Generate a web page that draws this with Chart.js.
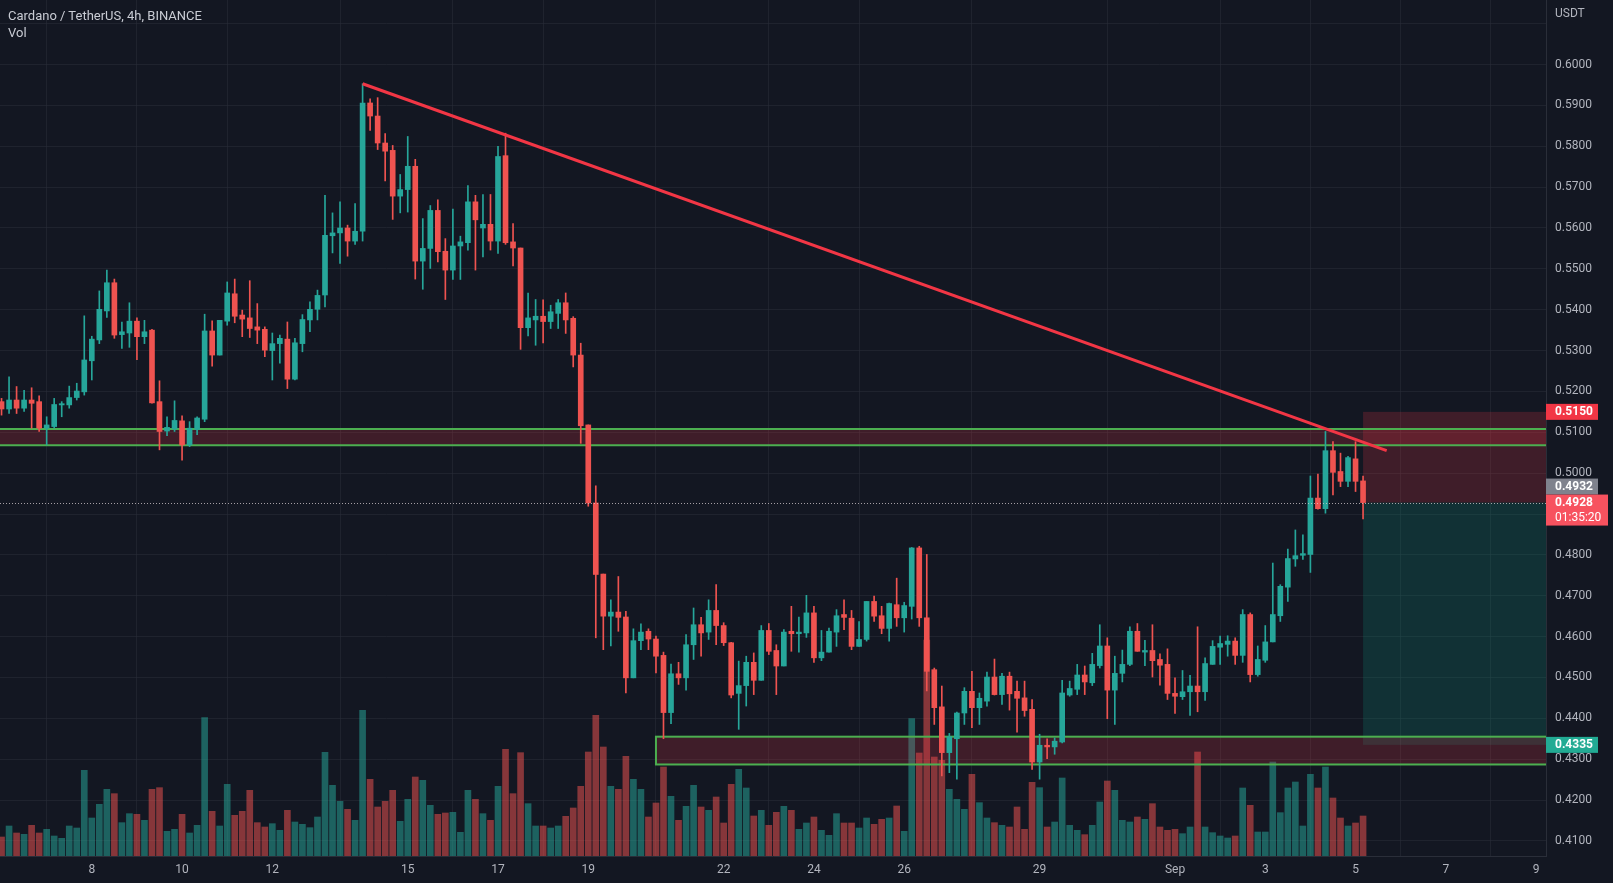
<!DOCTYPE html>
<html>
<head>
<meta charset="utf-8">
<script src="https://cdn.jsdelivr.net/npm/chart.js@4.4.0/dist/chart.umd.min.js"></script>
<style>
  html, body { margin: 0; padding: 0; background: #131722; }
  #wrap { position: relative; width: 1613px; height: 883px; }
  .lbl { position: absolute; font-family: Roboto, "Noto Sans", sans-serif; color: #b2b5be; white-space: nowrap; }
</style>
</head>
<body>
<div id="wrap">
  <canvas id="c"></canvas>
  <div class="lbl" style="left:8px;top:8px;font-size:13px;color:#c9ccd4">Cardano / TetherUS, 4h, BINANCE</div>
  <div class="lbl" style="left:8px;top:25px;font-size:13px;color:#c9ccd4">Vol</div>
  <div class="lbl" style="left:1555px;top:6px;font-size:12px">USDT</div>
</div>
<script>
/* ADAUSDT 4h candles, Aug 6 00:00 -> Sep 5 04:00 (one candle every 4h).
   x axis is measured in days from Aug 1 00:00. */
const START_DAY = 5;
const STEP = 1 / 6;

const opens = [
  .5175,.5157,.5179,.5159,.5179,.5175,.5110,.5114,.5167,.5167,
  .5185,.5199,.5275,.5326,.5397,.5466,.5339,.5343,.5372,.5334,
  .5350,.5175,.5103,.5108,.5128,.5069,.5107,.5132,.5348,.5289,
  .5372,.5439,.5387,.5380,.5358,.5352,.5300,.5317,.5328,.5230,
  .5317,.5375,.5401,.5436,.5581,.5588,.5600,.5568,.5592,.5906,
  .5874,.5808,.5790,.5678,.5694,.5751,.5519,.5550,.5643,.5543,
  .5497,.5556,.5564,.5664,.5600,.5609,.5568,.5777,.5566,.5551,
  .5356,.5375,.5384,.5371,.5391,.5417,.5379,.5289,.5118,.4927,
  .4753,.4650,.4660,.4648,.4499,.4590,.4613,.4594,.4554,.4414,
  .4509,.4499,.4580,.4629,.4611,.4664,.4627,.4585,.4461,.4480,
  .4537,.4493,.4615,.4566,.4528,.4613,.4607,.4609,.4658,.4548,
  .4562,.4611,.4654,.4645,.4576,.4593,.4686,.4651,.4620,.4678,
  .4646,.4674,.4817,.4646,.4519,.4428,.4316,.4350,.4413,.4466,
  .4426,.4442,.4501,.4458,.4503,.4466,.4450,.4422,.4293,.4334,
  .4330,.4342,.4457,.4471,.4506,.4487,.4529,.4577,.4469,.4510,
  .4532,.4613,.4562,.4566,.4544,.4532,.4461,.4453,.4465,.4479,
  .4465,.4532,.4574,.4581,.4589,.4554,.4654,.4507,.4542,.4587,
  .4651,.4721,.4790,.4799,.4801,.4939,.4913,.5055,.5004,.4980,
  .5035,.4981
];
const highs = [
  .5183,.5236,.5212,.5203,.5209,.5189,.5138,.5183,.5175,.5213,
  .5220,.5385,.5335,.5446,.5497,.5475,.5370,.5417,.5380,.5374,
  .5352,.5226,.5138,.5177,.5140,.5126,.5138,.5389,.5373,.5374,
  .5468,.5475,.5399,.5471,.5415,.5358,.5343,.5338,.5370,.5330,
  .5388,.5419,.5448,.5680,.5637,.5664,.5607,.5660,.5953,.5916,
  .5919,.5831,.5802,.5731,.5824,.5768,.5623,.5655,.5669,.5574,
  .5646,.5580,.5704,.5680,.5682,.5682,.5800,.5832,.5611,.5551,
  .5441,.5425,.5424,.5411,.5425,.5441,.5383,.5318,.5118,.4969,
  .4753,.4690,.4747,.4662,.4619,.4631,.4619,.4601,.4562,.4533,
  .4537,.4605,.4670,.4647,.4690,.4727,.4634,.4586,.4540,.4552,
  .4560,.4627,.4632,.4580,.4617,.4674,.4648,.4701,.4674,.4615,
  .4621,.4666,.4690,.4664,.4637,.4686,.4699,.4674,.4682,.4743,
  .4684,.4818,.4821,.4801,.4523,.4479,.4363,.4415,.4475,.4515,
  .4462,.4513,.4545,.4510,.4513,.4491,.4491,.4446,.4361,.4350,
  .4352,.4493,.4491,.4532,.4528,.4559,.4629,.4597,.4552,.4567,
  .4624,.4632,.4591,.4629,.4558,.4570,.4499,.4517,.4505,.4624,
  .4548,.4590,.4601,.4602,.4597,.4666,.4658,.4577,.4627,.4780,
  .4727,.4814,.4861,.4849,.4993,.4998,.5102,.5077,.5049,.5041,
  .5077,.4993
];
const lows = [
  .5142,.5146,.5146,.5151,.5110,.5102,.5069,.5110,.5138,.5159,
  .5179,.5191,.5228,.5317,.5381,.5330,.5305,.5308,.5278,.5317,
  .5171,.5057,.5092,.5102,.5032,.5065,.5094,.5126,.5262,.5289,
  .5362,.5368,.5334,.5332,.5317,.5285,.5228,.5269,.5207,.5228,
  .5297,.5346,.5375,.5407,.5539,.5513,.5531,.5560,.5568,.5839,
  .5792,.5715,.5621,.5637,.5639,.5475,.5450,.5501,.5517,.5425,
  .5474,.5474,.5546,.5497,.5529,.5546,.5538,.5560,.5507,.5303,
  .5336,.5313,.5319,.5354,.5354,.5342,.5260,.5073,.4919,.4597,
  .4568,.4577,.4613,.4462,.4499,.4568,.4568,.4511,.4350,.4387,
  .4483,.4469,.4544,.4552,.4593,.4580,.4578,.4450,.4373,.4430,
  .4458,.4493,.4556,.4458,.4528,.4564,.4562,.4598,.4537,.4541,
  .4562,.4576,.4617,.4568,.4576,.4589,.4637,.4607,.4589,.4625,
  .4611,.4643,.4625,.4467,.4385,.4259,.4267,.4251,.4385,.4377,
  .4385,.4430,.4457,.4434,.4420,.4366,.4405,.4275,.4251,.4301,
  .4312,.4340,.4454,.4458,.4458,.4480,.4523,.4399,.4385,.4489,
  .4529,.4564,.4529,.4501,.4481,.4446,.4412,.4446,.4407,.4416,
  .4444,.4532,.4532,.4552,.4532,.4537,.4489,.4503,.4537,.4587,
  .4637,.4686,.4772,.4789,.4757,.4912,.4902,.4947,.4967,.4967,
  .4955,.4888
];
const closes = [
  .5157,.5179,.5159,.5179,.5171,.5110,.5118,.5168,.5170,.5185,
  .5201,.5277,.5328,.5401,.5466,.5338,.5346,.5372,.5334,.5346,
  .5172,.5102,.5112,.5129,.5069,.5110,.5135,.5348,.5289,.5374,
  .5441,.5384,.5377,.5354,.5350,.5301,.5317,.5330,.5230,.5319,
  .5376,.5401,.5435,.5582,.5588,.5600,.5568,.5592,.5906,.5874,
  .5808,.5788,.5678,.5694,.5751,.5519,.5550,.5643,.5542,.5497,
  .5556,.5566,.5664,.5620,.5609,.5568,.5775,.5564,.5551,.5356,
  .5380,.5384,.5371,.5395,.5417,.5375,.5289,.5116,.4927,.4752,
  .4650,.4660,.4647,.4499,.4590,.4611,.4594,.4552,.4414,.4509,
  .4499,.4580,.4629,.4609,.4664,.4627,.4585,.4457,.4480,.4537,
  .4493,.4615,.4564,.4528,.4611,.4607,.4611,.4658,.4548,.4562,
  .4613,.4651,.4647,.4576,.4593,.4686,.4650,.4620,.4681,.4646,
  .4676,.4817,.4646,.4515,.4426,.4316,.4355,.4413,.4466,.4426,
  .4449,.4501,.4458,.4503,.4460,.4449,.4419,.4293,.4334,.4330,
  .4344,.4462,.4473,.4506,.4489,.4532,.4577,.4469,.4510,.4532,
  .4613,.4564,.4566,.4541,.4530,.4461,.4454,.4465,.4479,.4465,
  .4534,.4576,.4583,.4589,.4554,.4654,.4507,.4544,.4587,.4654,
  .4723,.4791,.4798,.4803,.4939,.4913,.5055,.5002,.4980,.5038,
  .4980,.4928
];
// volume, millions of ADA
const volumes = [
  5.7,9.0,6.9,6.5,9.2,6.9,8.0,6.0,5.3,9.0,
  8.4,25.7,11.4,15.5,20.0,18.7,10.0,12.7,12.5,10.7,
  20.0,20.5,7.4,8.0,12.5,6.9,9.2,41.5,13.4,9.0,
  21.5,12.2,13.4,19.7,10.0,8.7,9.7,7.7,13.7,10.2,
  9.5,8.5,11.7,31.1,21.2,16.4,14.0,10.7,43.7,23.0,
  14.7,16.4,19.7,10.4,17.0,23.7,22.7,15.2,12.5,12.9,
  13.1,7.1,19.7,17.0,12.7,10.7,20.9,32.0,18.7,31.0,
  15.7,9.0,9.0,8.4,9.0,11.9,14.4,20.9,31.2,42.2,
  32.7,20.9,20.0,29.9,23.0,20.0,11.7,15.9,26.7,17.9,
  10.7,14.9,21.2,14.7,13.7,17.7,9.9,21.5,26.0,20.4,
  12.0,13.7,9.2,13.1,14.9,13.7,8.0,9.9,11.7,7.7,
  6.2,12.7,9.9,9.9,8.4,11.4,9.5,11.0,11.4,15.0,
  7.4,41.2,30.9,64.8,29.7,28.7,20.0,17.0,14.0,24.5,
  16.0,11.4,10.0,9.2,8.7,14.7,8.0,22.1,20.5,8.7,
  10.2,23.4,9.2,7.7,6.4,9.2,16.2,22.5,19.7,10.7,
  10.2,11.7,11.0,15.7,8.7,7.7,8.0,6.7,8.7,31.2,
  8.7,7.0,6.0,5.4,6.0,20.4,15.2,7.2,7.2,28.2,
  13.0,20.4,22.2,9.0,24.5,20.4,26.7,17.4,11.4,9.0,
  9.9,12.0
];

const tickDays = [7, 9, 11, 14, 16, 18, 21, 23, 25, 28, 31, 33, 35, 37, 39];
const tickLabels = ['8', '10', '12', '15', '17', '19', '22', '24', '26', '29', 'Sep', '3', '5', '7', '9'];
const priceTicks = [0.41, 0.42, 0.43, 0.44, 0.45, 0.46, 0.47, 0.48, 0.49, 0.50,
                    0.51, 0.52, 0.53, 0.54, 0.55, 0.56, 0.57, 0.58, 0.59, 0.60, 0.61];
const hiddenPriceTicks = [0.49, 0.61];

// drawings
const trendDays = [13.0, 35.69];
const trendPrices = [0.5953, 0.5055];
const upperZone = [0.5068, 0.5108];
const lowerZone = [0.4287, 0.4355];
const lowerZoneStart = 19.5;
const positionStart = 35.1667;
const entryPrice = 0.4928, stopPrice = 0.5150, targetPrice = 0.4335;

// right-axis tags: value, background, optional second line
const tagValues = [0.5150, 0.4932, 0.4928, 0.4335];
const tagColors = ['#f23645', '#7f828d', '#f7525f', '#22ab94'];
const tagSubs = ['', '', '01:35:20', ''];

const UP = '#26a69a', DOWN = '#ef5350';
const VOL_UP = 'rgba(38,166,154,0.52)', VOL_DOWN = 'rgba(239,83,80,0.52)';
const GRID = 'rgba(42,46,57,0.55)';
const TXT = '#b2b5be';
const FONT = 'Roboto, "Noto Sans", sans-serif';

const candleX = opens.map((_, i) => START_DAY + i * STEP);
const up = opens.map((o, i) => closes[i] >= o);

function drawBox(ctx, x, y, d0, d1, p0, p1, fill) {
  const l = x.getPixelForValue(d0), r = x.getPixelForValue(d1);
  const t = y.getPixelForValue(Math.max(p0, p1)), b = y.getPixelForValue(Math.min(p0, p1));
  ctx.fillStyle = fill;
  ctx.fillRect(l, t, r - l, b - t);
  return { l, r, t, b };
}

const drawings = {
  id: 'drawings',
  beforeDatasetDraw(chart, args) {
    if (args.index !== 1) return;  // after volume, before candles
    const { ctx, chartArea: a, scales: { x, y } } = chart;
    ctx.save();
    ctx.beginPath();
    ctx.rect(a.left, a.top, a.right - a.left, a.bottom - a.top);
    ctx.clip();
    // short position
    drawBox(ctx, x, y, positionStart, x.max + 1, entryPrice, stopPrice, 'rgba(242,54,69,0.2)');
    drawBox(ctx, x, y, positionStart, x.max + 1, targetPrice, entryPrice, 'rgba(8,153,129,0.2)');
    // zones
    ctx.strokeStyle = '#4caf50';
    ctx.lineWidth = 2;
    let z = drawBox(ctx, x, y, x.min - 1, x.max + 1, upperZone[0], upperZone[1], 'rgba(242,54,69,0.2)');
    ctx.beginPath();
    ctx.moveTo(a.left, z.t); ctx.lineTo(a.right, z.t);
    ctx.moveTo(a.left, z.b); ctx.lineTo(a.right, z.b);
    ctx.stroke();
    z = drawBox(ctx, x, y, lowerZoneStart, x.max + 1, lowerZone[0], lowerZone[1], 'rgba(242,54,69,0.2)');
    ctx.strokeRect(z.l, z.t, z.r - z.l, z.b - z.t);
    ctx.restore();
  },
  afterDatasetsDraw(chart) {
    const { ctx, chartArea: a, scales: { y } } = chart;
    const py = Math.round(y.getPixelForValue(entryPrice)) + 0.5;
    ctx.save();
    ctx.strokeStyle = 'rgba(215,205,210,0.75)';
    ctx.lineWidth = 1;
    ctx.setLineDash([1, 2]);
    ctx.beginPath();
    ctx.moveTo(a.left, py); ctx.lineTo(a.right, py);
    ctx.stroke();
    ctx.restore();
  },
  afterDraw(chart) {
    const { ctx, chartArea: a, scales: { y } } = chart;
    ctx.save();
    ctx.font = 'bold 12px ' + FONT;
    ctx.textBaseline = 'middle';
    const rects = tagValues.map((v, i) => {
      const yc = y.getPixelForValue(v);
      return { yc, top: yc - 8, h: tagSubs[i] ? 31 : 16, w: tagSubs[i] ? 62 : 52 };
    });
    // push the 0.4932 tag above the 0.4928 one, as the terminal does
    if (rects[1].top + rects[1].h > rects[2].top) {
      rects[1].top = rects[2].top - rects[1].h;
      rects[1].yc = rects[1].top + 8;
    }
    rects.forEach((r, i) => {
      ctx.fillStyle = tagColors[i];
      ctx.fillRect(a.right, r.top, r.w, r.h);
      ctx.fillStyle = '#ffffff';
      ctx.fillText(tagValues[i].toFixed(4), a.right + 9, r.yc + 0.5);
      if (tagSubs[i]) {
        ctx.font = '12px ' + FONT;
        ctx.fillText(tagSubs[i], a.right + 9, r.yc + 15);
        ctx.font = 'bold 12px ' + FONT;
      }
    });
    ctx.restore();
  }
};

new Chart(document.getElementById('c'), {
  type: 'bar',
  data: {
    datasets: [
      {
        label: 'Vol',
        data: candleX.map((x, i) => ({ x, y: volumes[i] })),
        backgroundColor: up.map(u => u ? VOL_UP : VOL_DOWN),
        barThickness: 6, grouped: false, yAxisID: 'yv', order: 4
      },
      {
        label: 'wick',
        data: candleX.map((x, i) => ({ x, y: [lows[i], highs[i]] })),
        backgroundColor: up.map(u => u ? UP : DOWN),
        barThickness: 1, grouped: false, yAxisID: 'y', order: 3
      },
      {
        label: 'body',
        data: candleX.map((x, i) => ({ x, y: [opens[i], closes[i]] })),
        backgroundColor: up.map(u => u ? UP : DOWN),
        barThickness: 5, minBarLength: 1, grouped: false, yAxisID: 'y', order: 2
      },
      {
        type: 'line',
        label: 'trend',
        data: trendDays.map((d, i) => ({ x: d, y: trendPrices[i] })),
        borderColor: '#f23645', borderWidth: 3, pointRadius: 0,
        yAxisID: 'y', order: 1
      }
    ]
  },
  options: {
    responsive: true,
    maintainAspectRatio: false,
    animation: false,
    layout: { padding: 0 },
    plugins: { legend: { display: false }, tooltip: { enabled: false } },
    scales: {
      x: {
        type: 'linear', min: 4.966, max: 39.22, offset: false,
        grid: { color: GRID, drawTicks: false },
        border: { color: '#2a2e39' },
        ticks: {
          color: TXT, font: { size: 12, family: FONT }, padding: 7,
          autoSkip: false, maxRotation: 0,
          callback: v => { const k = tickDays.indexOf(v); return k >= 0 ? tickLabels[k] : ''; }
        },
        afterBuildTicks: s => { s.ticks = tickDays.map(v => ({ value: v })); },
        afterFit: s => { s.height = 27; s.paddingLeft = 0; s.paddingRight = 0; }
      },
      y: {
        position: 'right', min: 0.4063, max: 0.6158,
        grid: { color: GRID, drawTicks: false },
        border: { color: '#2a2e39' },
        ticks: {
          color: TXT, font: { size: 12, family: FONT }, padding: 9,
          callback: v => hiddenPriceTicks.some(h => Math.abs(h - v) < 1e-6) ? '' : Number(v).toFixed(4)
        },
        afterBuildTicks: s => { s.ticks = priceTicks.map(v => ({ value: v })); },
        afterFit: s => { s.width = 67; s.paddingTop = 0; s.paddingBottom = 0; }
      },
      yv: { display: false, min: 0, max: 256.8 }
    }
  },
  plugins: [drawings]
});
</script>
</body>
</html>
